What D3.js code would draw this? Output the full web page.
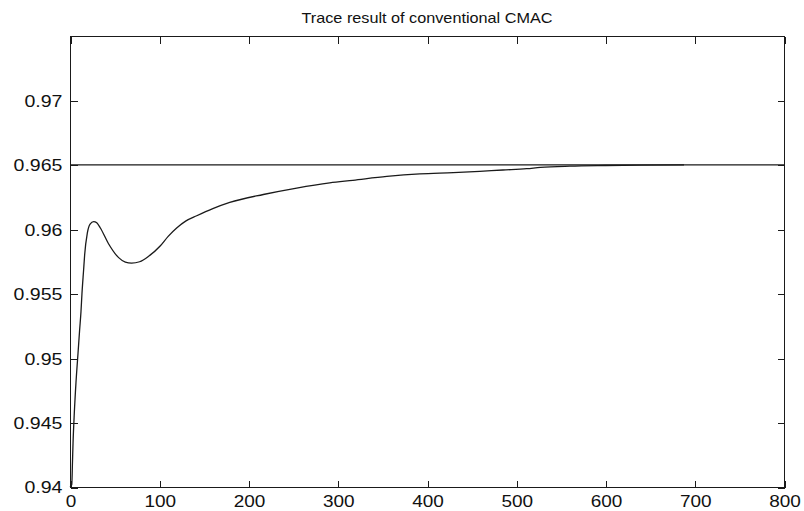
<!DOCTYPE html>
<html>
<head>
<meta charset="utf-8">
<script src="https://cdn.jsdelivr.net/npm/d3@7"></script>
<style>
  html, body { margin: 0; padding: 0; background: #fff; }
  svg { display: block; }
  text { font-family: "Liberation Sans", Arial, sans-serif; fill: #111; }
</style>
</head>
<body>
<svg id="chart" width="804" height="511"></svg>
<script>
// Trace output of the conventional CMAC (iteration vs. output)
const traceX = [0, 2, 2.8, 3.4, 4.8, 6.7, 9, 10.8, 12.3, 13.4, 15.3, 16.4, 19.4, 22.5, 26.5, 30, 34, 43, 54.5, 62, 69, 78, 88, 101, 110, 119.5, 130, 142, 160, 179, 216.6, 254, 291, 317, 355, 392, 429.5, 459, 485, 511.7, 527, 560, 600, 640, 688];
const traceY = [0.9400, 0.9402, 0.9420, 0.9434, 0.9457, 0.9481, 0.9504, 0.9522, 0.9536, 0.9550, 0.9569, 0.9580, 0.9597, 0.9604, 0.9606, 0.9605, 0.9601, 0.9589, 0.9578, 0.95745, 0.95737, 0.95748, 0.9579, 0.9587, 0.95945, 0.9601, 0.96065, 0.96105, 0.9616, 0.96208, 0.9627, 0.9632, 0.9636, 0.9638, 0.9641, 0.9643, 0.9644, 0.9645, 0.9646, 0.9647, 0.9648, 0.96490, 0.96495, 0.96498, 0.9650];

// Desired reference value
const refX = [0, 800];
const refY = [0.965, 0.965];

const xTicks = [0, 100, 200, 300, 400, 500, 600, 700, 800];
const yTicks = [0.94, 0.945, 0.95, 0.955, 0.96, 0.965, 0.97];
const titleText = "Trace result of conventional CMAC";

const svg = d3.select("#chart");
const plotLeft = 70, plotRight = 784, plotTop = 36, plotBottom = 487;

const x = d3.scaleLinear().domain([0, 800]).range([plotLeft, plotRight]);
const y = d3.scaleLinear().domain([0.94, 0.975]).range([plotBottom, plotTop]);

const stretch = 1.15; // wide glyph look of the labels
const ink = "#1a1a1a";

// Plot frame
svg.append("rect")
  .attr("x", plotLeft + 0.5).attr("y", plotTop + 0.5)
  .attr("width", plotRight - plotLeft).attr("height", plotBottom - plotTop)
  .attr("fill", "none").attr("stroke", ink).attr("stroke-width", 1)
  .attr("shape-rendering", "crispEdges");

function styleAxis(g) {
  g.select(".domain").remove();
  g.selectAll(".tick line").attr("stroke", ink).attr("shape-rendering", "crispEdges");
}

// Bottom axis with labels
const gx = svg.append("g")
  .attr("transform", `translate(0.5,${plotBottom + 0.5})`)
  .call(d3.axisBottom(x).tickValues(xTicks).tickSize(-7).tickPadding(8).tickFormat(d3.format("d")))
  .call(styleAxis);
gx.selectAll("text")
  .attr("font-size", 16.5)
  .attr("font-family", "Liberation Sans, Arial, sans-serif")
  .attr("fill", "#111")
  .attr("transform", `scale(${stretch},1)`);

// Top axis, ticks only
svg.append("g")
  .attr("transform", `translate(0.5,${plotTop + 0.5})`)
  .call(d3.axisTop(x).tickValues(xTicks).tickSize(-7).tickFormat(""))
  .call(styleAxis);

// Left axis with labels
const gy = svg.append("g")
  .attr("transform", `translate(${plotLeft + 0.5},0.5)`)
  .call(d3.axisLeft(y).tickValues(yTicks).tickSize(-7).tickPadding(7).tickFormat(d => d3.format("")(+d.toFixed(3))))
  .call(styleAxis);
gy.selectAll("text")
  .attr("font-size", 17)
  .attr("font-family", "Liberation Sans, Arial, sans-serif")
  .attr("fill", "#111")
  .attr("transform", `scale(${stretch},1)`);

// Right axis, ticks only
svg.append("g")
  .attr("transform", `translate(${plotRight + 0.5},0.5)`)
  .call(d3.axisRight(y).tickValues(yTicks).tickSize(-7).tickFormat(""))
  .call(styleAxis);

const line = d3.line().x(d => x(d[0])).y(d => y(d[1]));

// Reference line
svg.append("path")
  .datum(d3.zip(refX, refY))
  .attr("d", line)
  .attr("fill", "none").attr("stroke", ink).attr("stroke-width", 1.2);

// Trace
svg.append("path")
  .datum(d3.zip(traceX, traceY))
  .attr("d", line.curve(d3.curveMonotoneX))
  .attr("fill", "none").attr("stroke", ink).attr("stroke-width", 1.3);

// Title
svg.append("text")
  .attr("x", (plotLeft + plotRight) / 2).attr("y", 23)
  .attr("text-anchor", "middle")
  .attr("font-size", 14.5)
  .attr("textLength", 251)
  .attr("lengthAdjust", "spacingAndGlyphs")
  .text(titleText);
</script>
</body>
</html>
